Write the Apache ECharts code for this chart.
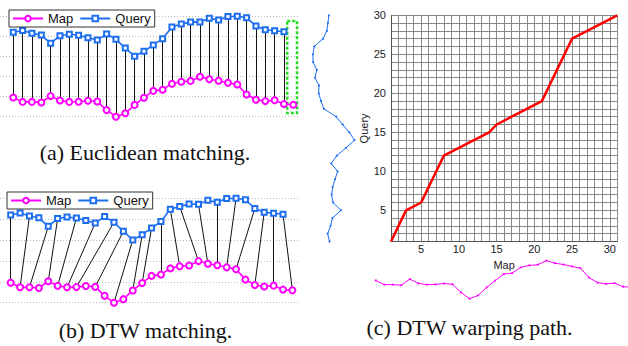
<!DOCTYPE html>
<html><head><meta charset="utf-8">
<script src="https://cdn.jsdelivr.net/npm/echarts@6/dist/echarts.min.js"></script>
<style>html,body{margin:0;padding:0;background:#fff}#c{width:628px;height:346px}</style>
</head><body><div id="c"></div>
<script>
const mapValues = [0.96,0.74,0.74,0.71,1.03,0.81,0.74,0.75,0.80,0.76,0.33,0.00,0.17,0.59,0.95,1.29,1.35,1.65,1.75,1.79,2.00,1.87,1.80,1.70,1.61,1.11,0.85,0.78,0.82,0.63,0.60];
const queryValues = [4.22,4.31,4.17,4.08,3.67,4.05,4.12,4.07,3.95,3.83,4.14,3.87,3.43,3.02,3.27,3.59,3.90,4.49,4.63,4.74,4.73,4.92,4.83,5.01,5.02,4.95,4.53,4.35,4.30,4.25];
const pathMap   = [1,2,3,5,6,7,8,10,12,14,15,17,19,21,22,23,24,25,27,29,31];
const pathQuery = [1,3,5,6,8,10,12,13,14,15,16,17,18,19,21,23,25,27,28,29,30];
const mapTicks = [5,10,15,20,25,30];
const queryTicks = [5,10,15,20,25,30];
const seriesNames = ['Map','Query'];
const axisNames = ['Map','Query'];
const captions = ['(a) Euclidean matching.','(b) DTW matching.','(c) DTW warping path.'];
const unmatchedMap = 31;

const MAG = '#ff00ff', BLUE = '#1e6ef0';
const SANS = '"Liberation Sans", Arial, sans-serif';
const SERIF = '"Liberation Serif", "Times New Roman", serif';

const mapPts = mapValues.map((v,i)=>[i+1,v]);
const queryPts = queryValues.map((v,i)=>[i+1,v]);
const euclidLines = queryValues.map((v,i)=>({coords:[[i+1,v],[i+1,mapValues[i]]]}));
const dtwLines = pathMap.map((m,k)=>({coords:[[pathQuery[k],queryValues[pathQuery[k]-1]],[m,mapValues[m-1]]]}));
const pathPts = pathMap.map((m,k)=>[m,pathQuery[k]]);
const queryVert = queryValues.map((v,i)=>[v,i+1]);

const chart = echarts.init(document.getElementById('c'), null, {renderer:'svg'});

const hiddenAxis = (g,extra)=>Object.assign({gridIndex:g,type:'value',show:false},extra);
const dotGridY = (g,max)=>({gridIndex:g,type:'value',min:0,max:max,interval:1,
  axisLine:{show:false},axisTick:{show:false},axisLabel:{show:false},
  splitLine:{show:true,lineStyle:{type:[1,2],color:'#bbb',width:1}}});

const legendBase = {data:seriesNames, orient:'horizontal', itemWidth:30, itemHeight:7, itemGap:6,
  padding:[2,4,2,3], borderColor:'#333', borderWidth:1, backgroundColor:'#fff', selectedMode:false,
  textStyle:{fontSize:13, fontFamily:SANS, color:'#111'}};

function mapSeries(xi, withBox){
  const s = {name:'Map', type:'line', xAxisIndex:xi, yAxisIndex:xi, data:mapPts, clip:false,
    symbol:'emptyCircle', symbolSize:6, lineStyle:{color:MAG,width:1.6},
    itemStyle:{color:MAG,borderWidth:1.2}, z:3, animation:false};
  if(withBox){
    s.markArea = {silent:true, label:{show:false},
      itemStyle:{color:'rgba(0,0,0,0)',borderColor:'#22dd22',borderWidth:2.5,borderType:[3,2]},
      data:[[{xAxis:unmatchedMap-0.65,yAxis:4.78},{xAxis:unmatchedMap+0.4,yAxis:0.18}]]};
  }
  return s;
}
function querySeries(xi){
  return {name:'Query', type:'line', xAxisIndex:xi, yAxisIndex:xi, data:queryPts, clip:false,
    symbol:'emptyRect', symbolSize:5, lineStyle:{color:BLUE,width:1.6},
    itemStyle:{color:BLUE,borderWidth:1.1}, z:3, animation:false};
}

const option = {
  animation:false,
  grid:[
    {left:0, top:16.7, width:300, height:100, outerBoundsMode:'none'},
    {left:0, top:198.7, width:300, height:104, outerBoundsMode:'none'},
    {left:391, top:15.3, width:226.3, height:226.2, outerBoundsMode:'none'},
    {left:302.9, top:15.3, width:62.4, height:226.2, outerBoundsMode:'none'},
    {left:375.7, top:260.7, width:255.9, height:38, outerBoundsMode:'none'}
  ],
  xAxis:[
    hiddenAxis(0,{min:-0.425,max:31.72}),
    hiddenAxis(1,{min:-0.14,max:31.81}),
    {gridIndex:2,type:'value',min:1,max:31,interval:1,name:axisNames[0],nameLocation:'middle',nameGap:12,
      nameTextStyle:{fontSize:11,fontFamily:SANS,color:'#222'},
      axisLine:{lineStyle:{color:'#555'}},axisTick:{show:false},
      axisLabel:{fontSize:11,fontFamily:SANS,color:'#222',margin:2,formatter:v=>mapTicks.includes(v)?String(v):''},
      splitLine:{show:true,lineStyle:{color:'#888',width:1}}},
    hiddenAxis(3,{min:2.5,max:5.5,inverse:true}),
    hiddenAxis(4,{min:1,max:31})
  ],
  yAxis:[
    dotGridY(0,5),
    dotGridY(1,5),
    {gridIndex:2,type:'value',min:1,max:30,interval:1,name:axisNames[1],nameLocation:'middle',nameGap:18,
      nameTextStyle:{fontSize:11,fontFamily:SANS,color:'#222'},
      axisLine:{lineStyle:{color:'#555'}},axisTick:{show:false},
      axisLabel:{fontSize:11,fontFamily:SANS,color:'#222',margin:5,formatter:v=>queryTicks.includes(v)?String(v):''},
      splitLine:{show:true,lineStyle:{color:'#888',width:1}}},
    hiddenAxis(3,{min:1,max:30}),
    hiddenAxis(4,{min:0,max:2})
  ],
  legend:[
    Object.assign({left:9, top:10}, legendBase),
    Object.assign({left:7, top:192}, legendBase)
  ],
  series:[
    {type:'lines', coordinateSystem:'cartesian2d', xAxisIndex:0, yAxisIndex:0, data:euclidLines, silent:true,
      lineStyle:{color:'#111',width:1,opacity:1}, z:1, animation:false},
    mapSeries(0,true),
    querySeries(0),
    {type:'lines', coordinateSystem:'cartesian2d', xAxisIndex:1, yAxisIndex:1, data:dtwLines, silent:true,
      lineStyle:{color:'#111',width:1,opacity:1}, z:1, animation:false},
    mapSeries(1,false),
    querySeries(1),
    {type:'line', xAxisIndex:2, yAxisIndex:2, data:pathPts, symbol:'none', clip:false,
      lineStyle:{color:'#ff0000',width:2.5}, z:4, animation:false},
    {type:'line', xAxisIndex:3, yAxisIndex:3, data:queryVert, symbol:'circle', symbolSize:2, clip:false,
      lineStyle:{color:BLUE,width:1}, itemStyle:{color:BLUE}, animation:false},
    {type:'line', xAxisIndex:4, yAxisIndex:4, data:mapPts, symbol:'circle', symbolSize:2, clip:false,
      lineStyle:{color:MAG,width:1}, itemStyle:{color:MAG}, animation:false}
  ],
  graphic:[
    {type:'text', x:145, y:152, style:{text:captions[0], font:'22px '+SERIF, fill:'#111', align:'center', verticalAlign:'middle'}},
    {type:'text', x:145.5, y:330, style:{text:captions[1], font:'22px '+SERIF, fill:'#111', align:'center', verticalAlign:'middle'}},
    {type:'text', x:469.5, y:327, style:{text:captions[2], font:'22px '+SERIF, fill:'#111', align:'center', verticalAlign:'middle'}}
  ]
};
chart.setOption(option);
</script>
</body></html>
